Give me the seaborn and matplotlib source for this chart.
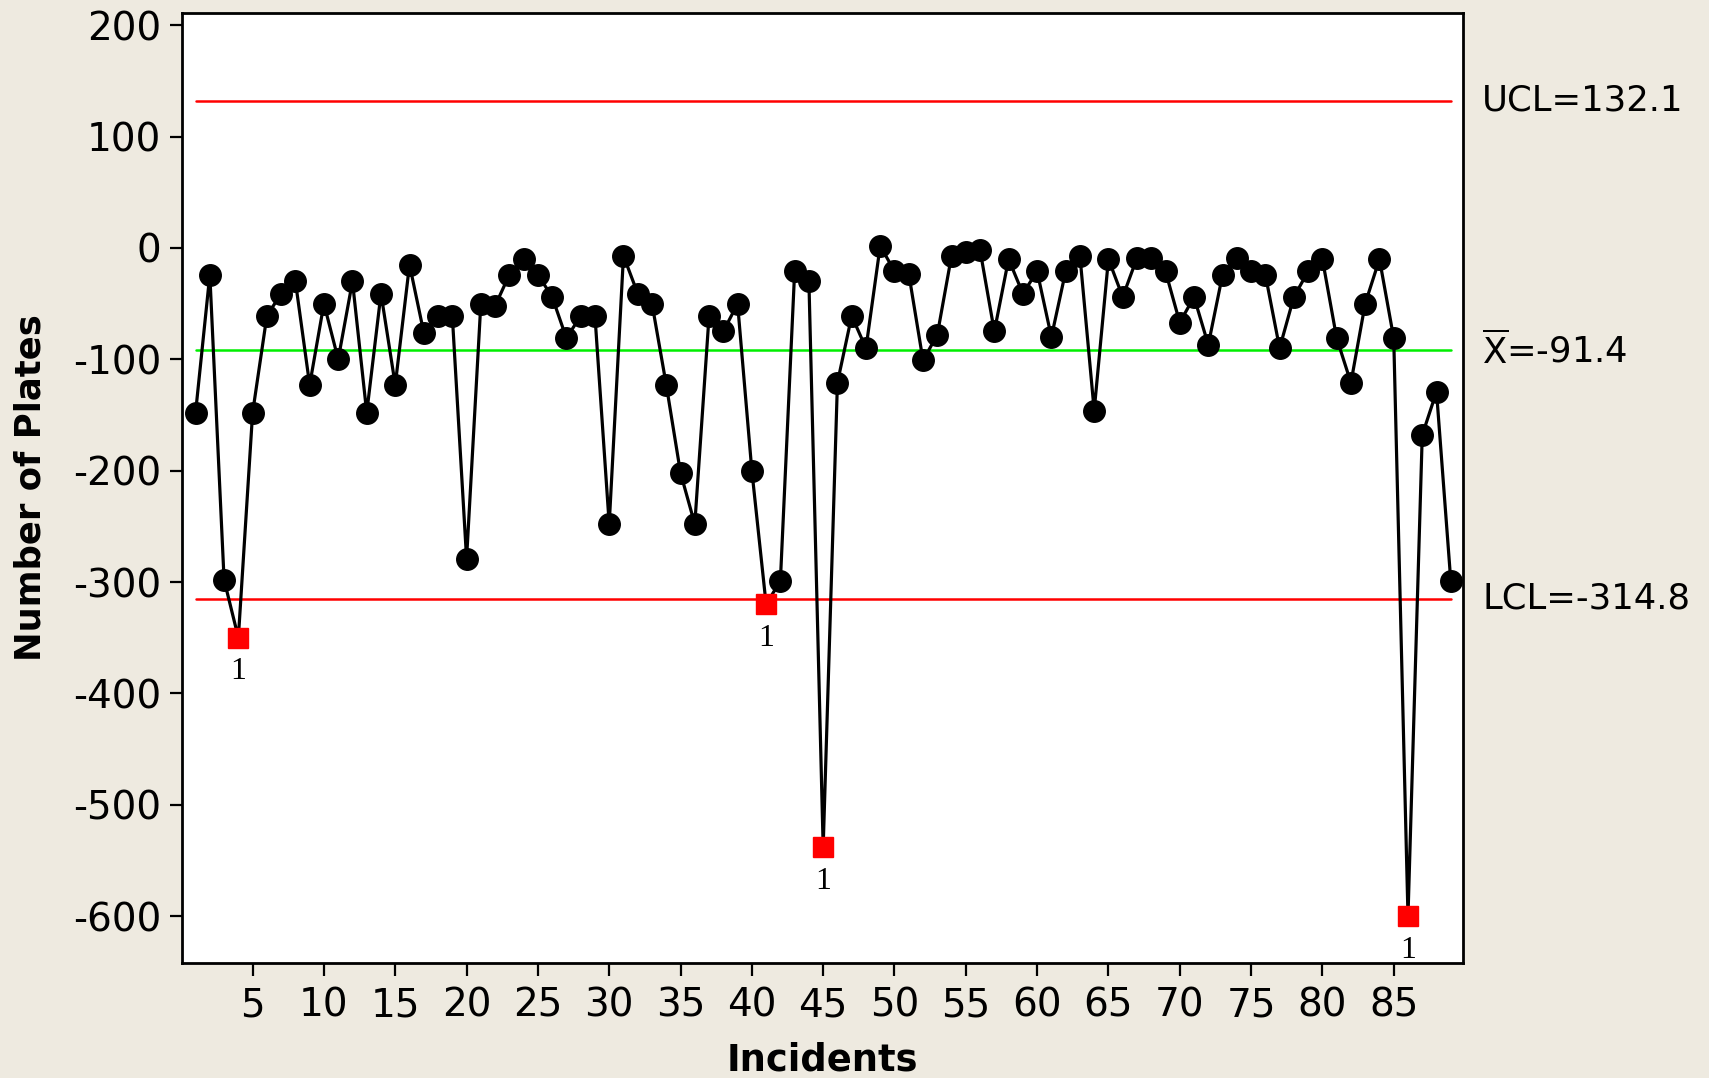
import numpy as np
import pandas as pd
import matplotlib
matplotlib.use("Agg")
import matplotlib.pyplot as plt
import matplotlib.transforms as mtransforms
import seaborn as sns

# ---- data ----
incidents = list(range(1, 90))
plates = [
    -148, -24, -298, -350, -148, -61, -41, -30, -123, -50,
    -100, -30, -148, -41, -123, -15, -76, -61, -61, -279,
    -50, -52, -24, -10, -24, -44, -81, -61, -61, -248,
    -7, -41, -50, -123, -202, -248, -61, -75, -50, -200,
    -320, -299, -21, -30, -538, -121, -61, -90, 2, -21,
    -23, -101, -78, -7, -4, -2, -75, -10, -41, -21,
    -80, -21, -7, -146, -10, -44, -9, -9, -21, -67,
    -44, -87, -24, -9, -21, -24, -90, -44, -21, -10,
    -81, -121, -50, -10, -81, -600, -168, -129, -299,
]
ucl = 132.1
center = -91.4
lcl = -314.8
x_ticks = [5, 10, 15, 20, 25, 30, 35, 40, 45, 50, 55, 60, 65, 70, 75, 80, 85]
y_ticks = [-600, -500, -400, -300, -200, -100, 0, 100, 200]

df = pd.DataFrame({"Incidents": incidents, "Plates": plates})
df["out"] = (df["Plates"] < lcl) | (df["Plates"] > ucl)

sns.set_style("white")
plt.rcParams["font.family"] = ["DejaVu Sans"]
plt.rcParams["mathtext.fontset"] = "dejavusans"
plt.rcParams["axes.unicode_minus"] = False
plt.rcParams["text.color"] = "black"
plt.rcParams["axes.labelcolor"] = "black"

bg = "#EEEAE0"
fig = plt.figure(figsize=(17.09, 10.78), dpi=100, facecolor=bg)
ax = fig.add_axes([0.1065, 0.1067, 0.856 - 0.1065, 0.988 - 0.1067])
ax.set_facecolor("white")

# control lines
ax.plot([incidents[0], incidents[-1]], [ucl, ucl], color="#FF0000", lw=1.8, zorder=1)
ax.plot([incidents[0], incidents[-1]], [lcl, lcl], color="#FF0000", lw=1.8, zorder=1)
ax.plot([incidents[0], incidents[-1]], [center, center], color="#00EE00", lw=1.8, zorder=1)

sns.lineplot(data=df, x="Incidents", y="Plates", color="black", lw=2.3, ax=ax, zorder=2)
ok = df[~df["out"]]
bad = df[df["out"]]
ax.plot(ok["Incidents"], ok["Plates"], "o", color="black", ms=15.5, zorder=3)
ax.plot(bad["Incidents"], bad["Plates"], "s", color="#FF0000", ms=14.5, zorder=3)
for xi, yi in zip(bad["Incidents"], bad["Plates"]):
    ax.annotate("1", (xi, yi), xytext=(0, -14), textcoords="offset points",
                ha="center", va="top", fontsize=23, family="Liberation Serif",
                color="black", zorder=6, annotation_clip=False)

ax.set_xlim(0.05, 89.85)
ax.set_ylim(-642, 211)
ax.set_xticks(x_ticks)
ax.set_yticks(y_ticks)
ax.tick_params(axis="both", direction="out", length=9, width=1.6, labelsize=28,
               left=True, bottom=True, top=False, right=False, pad=6, colors="black")
ax.tick_params(axis="x", pad=8)
for s in ax.spines.values():
    s.set_visible(True)
    s.set_color("black")
    s.set_linewidth(2)

ax.set_xlabel("Incidents", fontsize=26.5, fontweight="bold", labelpad=12)
ax.set_ylabel("Number of Plates", fontsize=25.5, fontweight="bold", labelpad=18)

trans = mtransforms.blended_transform_factory(ax.transAxes, ax.transData)
ax.text(1.015, ucl, "UCL=132.1", transform=trans, fontsize=25.5, va="center", ha="left")
ax.text(1.015, center, r"$\overline{\mathrm{X}}$=-91.4", transform=trans, fontsize=25.5, va="center", ha="left")
ax.text(1.015, lcl, "LCL=-314.8", transform=trans, fontsize=25.5, va="center", ha="left")

fig.savefig("out.png", dpi=100, facecolor=bg)
